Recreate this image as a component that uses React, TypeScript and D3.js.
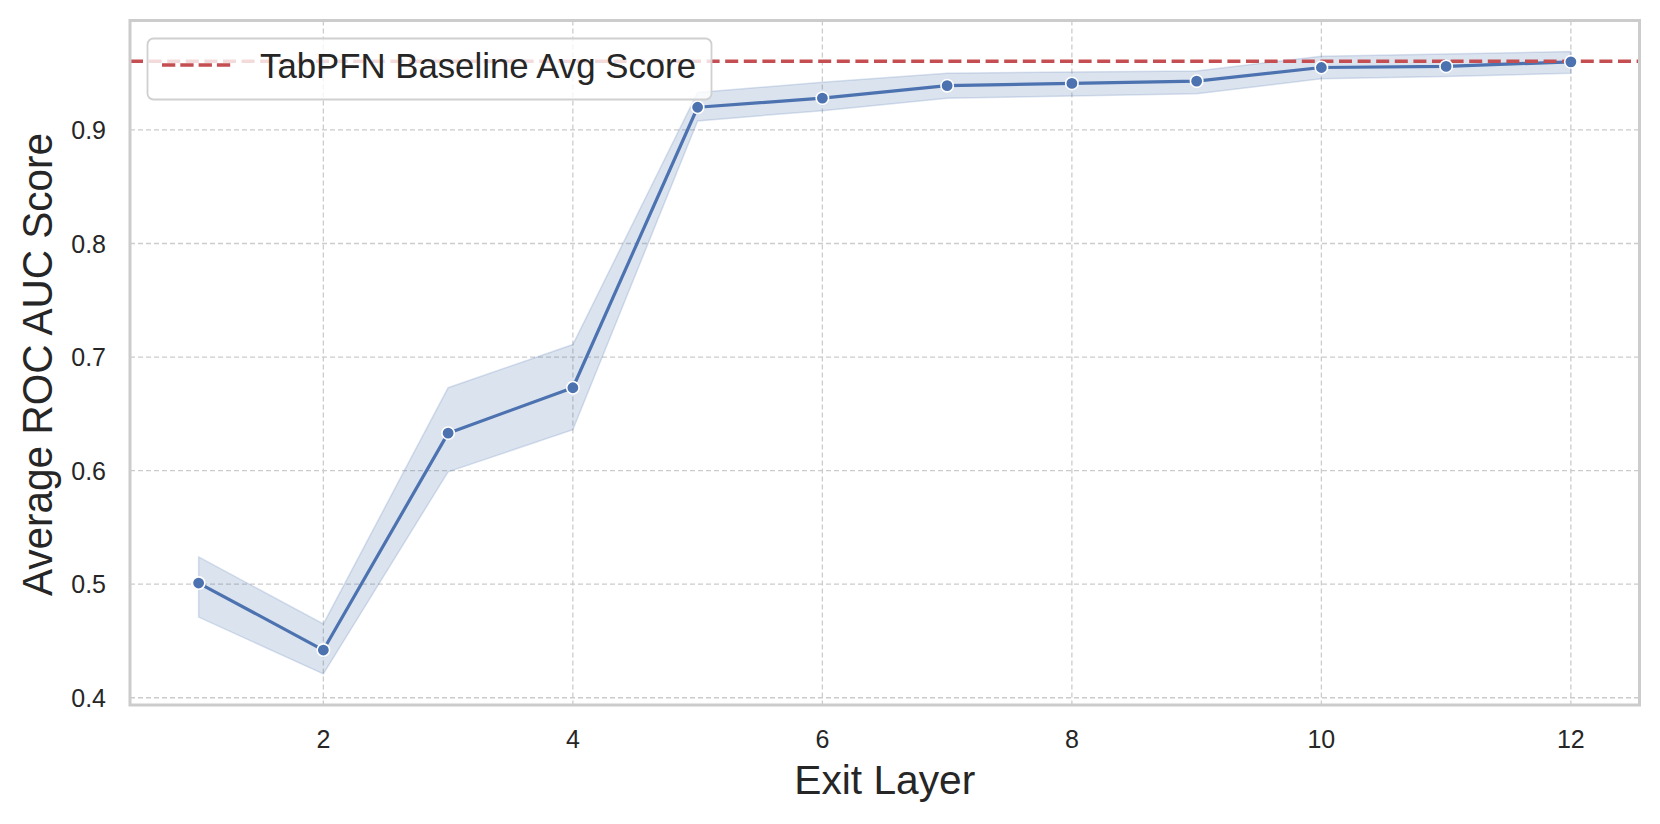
import React from "react";
import * as d3 from "d3";

const layers = [1, 2, 3, 4, 5, 6, 7, 8, 9, 10, 11, 12];
const meanScore = [0.501, 0.442, 0.633, 0.673, 0.920, 0.928, 0.939, 0.941, 0.943, 0.955, 0.956, 0.960];
const lowerCI = [0.471, 0.421, 0.599, 0.636, 0.908, 0.917, 0.928, 0.930, 0.932, 0.945, 0.947, 0.950];
const upperCI = [0.524, 0.465, 0.673, 0.711, 0.933, 0.942, 0.950, 0.951, 0.952, 0.965, 0.967, 0.969];
const baselineScore = 0.9605;
const xTicks = [2, 4, 6, 8, 10, 12];
const yTicks = [0.4, 0.5, 0.6, 0.7, 0.8, 0.9];
const xLabel = "Exit Layer";
const yLabel = "Average ROC AUC Score";
const legendLabel = "TabPFN Baseline Avg Score";

const W = 1660;
const H = 824;
const left = 130;
const right = 1639.5;
const top = 20.5;
const bottom = 705;

const FONT = "'Liberation Sans', Arial, Helvetica, sans-serif";
const BLUE = "#4c72b0";
const RED = "#c44e52";
const TEXT = "#262626";
const GRID = "#cccccc";

export default function App() {
  const xMin = d3.min(layers)!;
  const xMax = d3.max(layers)!;
  const xPad = (xMax - xMin) * 0.05;
  const x = d3.scaleLinear().domain([xMin - xPad, xMax + xPad]).range([left, right]);

  const yLo = d3.min(lowerCI)!;
  const yHi = d3.max(upperCI)!;
  const yPad = (yHi - yLo) * 0.05;
  const y = d3.scaleLinear().domain([yLo - yPad, yHi + yPad]).range([bottom, top]);

  const rows = layers.map((l, i) => ({ l, m: meanScore[i], lo: lowerCI[i], hi: upperCI[i] }));
  const area = d3
    .area<(typeof rows)[0]>()
    .x((d) => x(d.l))
    .y0((d) => y(d.lo))
    .y1((d) => y(d.hi));
  const line = d3
    .line<(typeof rows)[0]>()
    .x((d) => x(d.l))
    .y((d) => y(d.m));

  const legX = 147.5;
  const legY = 38.5;
  const legW = 564;
  const legH = 61;
  const handleY = 65;

  return (
    <div style={{ position: "absolute", left: 0, top: 0, width: W, height: H, background: "#fff" }}>
      <svg width={W} height={H} style={{ display: "block", fontFamily: FONT }}>
        <rect x={0} y={0} width={W} height={H} fill="#fff" />
        {/* grid */}
        <g stroke={GRID} strokeWidth={1.3} strokeDasharray="5,3">
          {xTicks.map((t) => (
            <line key={"gx" + t} x1={x(t)} x2={x(t)} y1={top} y2={bottom} />
          ))}
          {yTicks.map((t) => (
            <line key={"gy" + t} x1={left} x2={right} y1={y(t)} y2={y(t)} />
          ))}
        </g>
        {/* CI band */}
        <path d={area(rows)!} fill={BLUE} fillOpacity={0.2} stroke={BLUE} strokeOpacity={0.2} strokeWidth={1.5} />
        {/* mean line */}
        <path d={line(rows)!} fill="none" stroke={BLUE} strokeWidth={3.2} strokeLinejoin="round" />
        {/* baseline */}
        <line
          x1={left}
          x2={right}
          y1={y(baselineScore)}
          y2={y(baselineScore)}
          stroke={RED}
          strokeWidth={3.5}
          strokeDasharray="13,5.6"
        />
        {/* markers */}
        {rows.map((d) => (
          <circle key={"m" + d.l} cx={x(d.l)} cy={y(d.m)} r={6.2} fill={BLUE} stroke="#fff" strokeWidth={1.6} />
        ))}
        {/* frame */}
        <rect x={left} y={top} width={right - left} height={bottom - top} fill="none" stroke={GRID} strokeWidth={3} />
        {/* x tick labels */}
        {xTicks.map((t) => (
          <text key={"xt" + t} x={x(t)} y={748} textAnchor="middle" fontSize={25} fill={TEXT}>
            {t}
          </text>
        ))}
        {/* y tick labels */}
        {yTicks.map((t) => (
          <text key={"yt" + t} x={106} y={y(t)} dy="0.36em" textAnchor="end" fontSize={25} fill={TEXT}>
            {d3.format(".1f")(t)}
          </text>
        ))}
        {/* axis labels */}
        <text
          x={(left + right) / 2}
          y={794}
          textAnchor="middle"
          fontSize={41}
          fill={TEXT}
          textLength={181}
          lengthAdjust="spacingAndGlyphs"
        >
          {xLabel}
        </text>
        <text
          transform={`translate(52, 364.5) rotate(-90)`}
          textAnchor="middle"
          fontSize={42}
          fill={TEXT}
          textLength={463}
          lengthAdjust="spacingAndGlyphs"
        >
          {yLabel}
        </text>
        {/* legend */}
        <rect x={legX} y={legY} width={legW} height={legH} rx={6} ry={6} fill="#fff" fillOpacity={0.8} stroke="#d0d0d0" strokeWidth={1.8} />
        <line x1={162} x2={231} y1={handleY} y2={handleY} stroke={RED} strokeWidth={3.5} strokeDasharray="13.3,5" />
        <text x={260} y={77.5} fontSize={35} fill={TEXT} textLength={436} lengthAdjust="spacingAndGlyphs">
          {legendLabel}
        </text>
      </svg>
    </div>
  );
}
